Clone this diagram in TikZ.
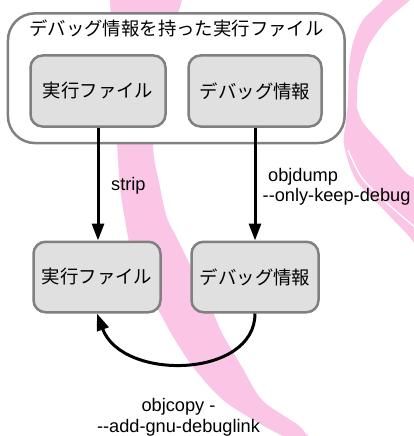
\documentclass[tikz,border=0pt]{standalone}
\usepackage{fontspec}
\newfontfamily\latfont{Liberation Sans}
\newfontfamily\jpfont{Noto Sans CJK JP}
\usetikzlibrary{arrows.meta}
\definecolor{pinkbg}{HTML}{FBC6E6}
\definecolor{boxborder}{HTML}{808080}
\definecolor{boxfill}{HTML}{E0E0E0}
\begin{document}
\begin{tikzpicture}[x=1pt,y=-1pt,
  outerbox/.style={draw=boxborder, line width=2.5pt, fill=white, rounded corners=27pt,
    minimum width=336.7pt, minimum height=129.7pt, inner sep=0pt},
  filebox/.style={draw=boxborder, line width=2.5pt, fill=boxfill, rounded corners=12pt,
    inner sep=0pt, font=\jpfont\fontsize{18.4}{21}\selectfont},
  jptext/.style={inner sep=0pt, font=\jpfont\fontsize{18.4}{21}\selectfont},
  flow/.style={line width=3pt, draw=black, -{Triangle[length=17pt,width=12pt]}},
  lbl/.style={inner sep=0pt, font=\latfont\fontsize{18.2}{21}\selectfont}
]
\useasboundingbox[fill=white] (0,0) rectangle (414,436);

% background swirl
\begin{scope}
\clip (0,0) rectangle (414,436);
\fill[pinkbg] plot[smooth cycle] coordinates {
  (108,-15) (110,0) (113,70) (117,143) (120,187) (125,220) (132,255) (145,290)
  (160,313) (172,335) (193,367) (223,400) (262,425) (290,440) (300,450)
  (325,450) (308,436) (298,425) (262,400) (242,367) (222,333) (210,305)
  (195,275) (178,240) (167,218) (160,187) (153,143) (162,70) (182,0) (186,-15)};
\fill[pinkbg] plot[smooth cycle] coordinates {
  (392,-15) (383,0) (363,20) (353,43) (349,67) (348,100) (346,122) (344,145)
  (356,180) (382,208) (408,235) (430,258)
  (430,190) (407,174) (387,150) (364,124) (357,108) (357,100) (358,80)
  (363,60) (370,43) (387,20) (410,0) (425,-15)};
\draw[white, line width=1.3pt] plot[smooth] coordinates {(348,150) (362,178) (388,204) (416,228)};
\end{scope}

% boxes
\node[outerbox] (outer) at (176.3,78.2) {};
\node[jptext] (title) at (176.5,28.5) {デバッグ情報を持った実行ファイル};
\node[filebox, minimum width=135pt, minimum height=71pt] (b1) at (98,91) {実行ファイル};
\node[filebox, minimum width=133pt, minimum height=71pt] (b2) at (255,91) {デバッグ情報};
\node[filebox, minimum width=127pt, minimum height=70.5pt] (b3) at (97,277) {実行ファイル};
\node[filebox, minimum width=127pt, minimum height=70.5pt] (b4) at (255,277) {デバッグ情報};

% connectors
\draw[flow] (b1.south) -- (b1.south |- b3.north);
\draw[flow] (b2.south) -- (b2.south |- b4.north);
\draw[flow] (b4.south) .. controls +(0,65) and +(25,68) .. (b3.south);

% labels
\node[lbl, anchor=base west] (strip) at (111,190) {strip};
\node[lbl, anchor=base west] (od1) at (268,181) {objdump};
\node[lbl, anchor=base west] (od2) at (262.5,201) {--only-keep-debug};
\node[lbl, anchor=base] (oc1) at (178.5,411) {objcopy -};
\node[lbl, anchor=base] (oc2) at (178.5,432.5) {--add-gnu-debuglink};
\end{tikzpicture}
\end{document}
